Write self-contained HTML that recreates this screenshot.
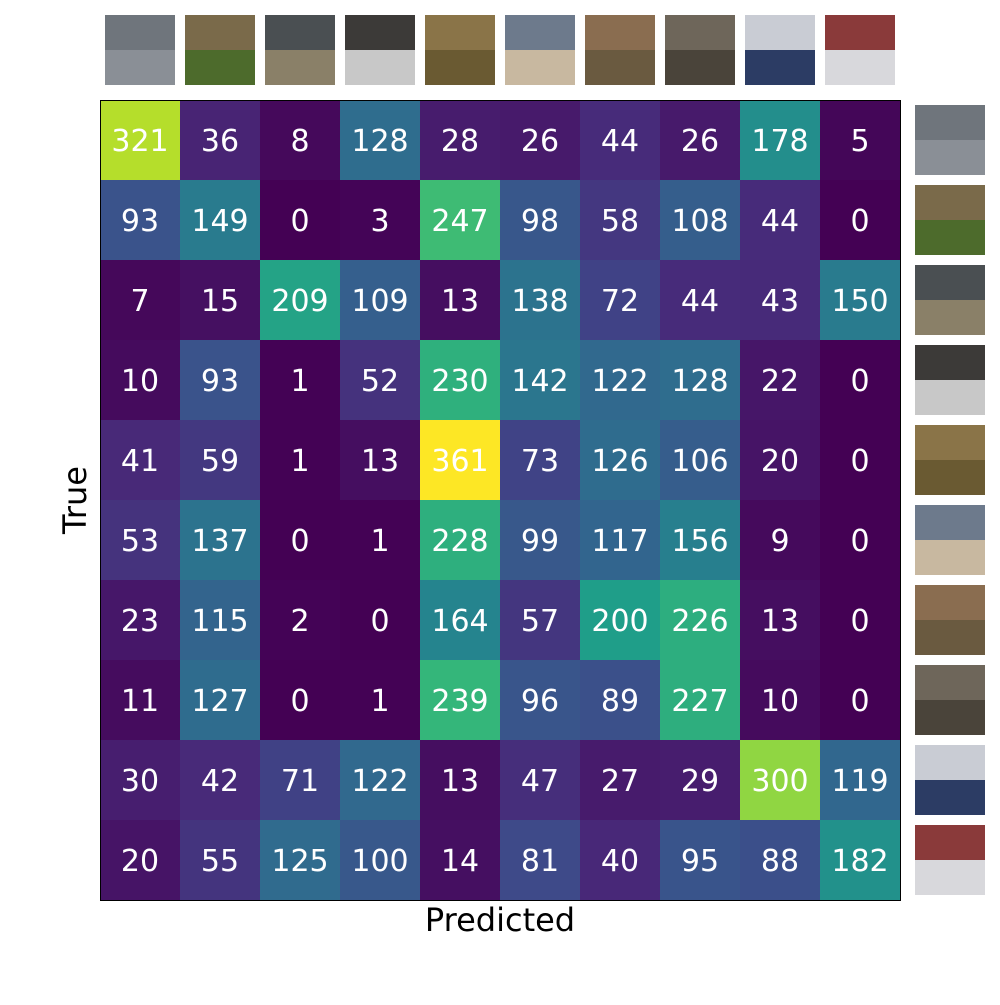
<!DOCTYPE html>
<html><head><meta charset="utf-8"><style>
body{margin:0;background:#fff;width:1000px;height:1000px;overflow:hidden}
svg text{font-family:"DejaVu Sans","Liberation Sans",sans-serif}
</style></head><body>
<svg id="chart" width="1000" height="1000" xmlns="http://www.w3.org/2000/svg">
<g id="cells"></g>
<g id="thumbs"></g>
<rect x="100.5" y="100.5" width="800" height="800" fill="none" stroke="#000" stroke-width="1"/>
<text x="500" y="931" font-size="32" text-anchor="middle">Predicted</text>
<text transform="translate(86,500) rotate(-90)" font-size="32" text-anchor="middle">True</text>
</svg>
<script>
const classes=["airplane","bird","car","cat","deer","dog","horse","monkey","ship","truck"];
const row0=[321,36,8,128,28,26,44,26,178,5];
const row1=[93,149,0,3,247,98,58,108,44,0];
const row2=[7,15,209,109,13,138,72,44,43,150];
const row3=[10,93,1,52,230,142,122,128,22,0];
const row4=[41,59,1,13,361,73,126,106,20,0];
const row5=[53,137,0,1,228,99,117,156,9,0];
const row6=[23,115,2,0,164,57,200,226,13,0];
const row7=[11,127,0,1,239,96,89,227,10,0];
const row8=[30,42,71,122,13,47,27,29,300,119];
const row9=[20,55,125,100,14,81,40,95,88,182];
const matrix=[row0,row1,row2,row3,row4,row5,row6,row7,row8,row9];
const thumbTop=["#6f757c","#7a6a4a","#4a4f52","#3c3a38","#8a7448","#6d7a8c","#8a6d50","#6e665a","#c9ccd4","#8a3a3a"];
const thumbBot=["#8a8f96","#4d6b2c","#8a8068","#c8c8c8","#6a5a32","#c8b8a0","#6a5a40","#4a443a","#2c3c64","#d8d8dc"];
const V=["#440154","#482878","#3e4989","#31688e","#26828e","#1f9e89","#35b779","#6ece58","#b5de2b","#fde725"];
function hex(h){return [1,3,5].map(i=>parseInt(h.substr(i,2),16));}
function viridis(t){t=Math.max(0,Math.min(1,t))*9;const i=Math.min(8,Math.floor(t)),f=t-i;const a=hex(V[i]),b=hex(V[i+1]);return "rgb("+a.map((v,k)=>Math.round(v+(b[k]-v)*f)).join(",")+")";}
const x0=100,y0=100,cs=80,vmax=Math.max(...matrix.flat());
const xPos=c=>x0+c*cs, yPos=r=>y0+r*cs;
const NS="http://www.w3.org/2000/svg";
const g=document.getElementById("cells");
matrix.forEach((row,r)=>row.forEach((v,c)=>{
  const rect=document.createElementNS(NS,"rect");
  
  
  rect.setAttribute("x",xPos(c));rect.setAttribute("y",yPos(r));
  rect.setAttribute("width",cs);rect.setAttribute("height",cs);
  rect.setAttribute("fill",viridis(v/vmax));
  g.appendChild(rect);
  const t=document.createElementNS(NS,"text");
  
  
  t.setAttribute("x",xPos(c)+cs/2);t.setAttribute("y",yPos(r)+cs/2+11);
  t.setAttribute("font-size","30");t.setAttribute("fill","#fff");t.setAttribute("text-anchor","middle");
  t.textContent=v;g.appendChild(t);
}));
const th=document.getElementById("thumbs");
function thumb(x,y,i,name){
  const a=document.createElementNS(NS,"rect");
  
  
  a.setAttribute("x",x);a.setAttribute("y",y);a.setAttribute("width",70);a.setAttribute("height",35);a.setAttribute("fill",thumbTop[i]);th.appendChild(a);
  const b=document.createElementNS(NS,"rect");
  
  
  b.setAttribute("x",x);b.setAttribute("y",y+35);b.setAttribute("width",70);b.setAttribute("height",35);b.setAttribute("fill",thumbBot[i]);th.appendChild(b);
}
classes.forEach((c,i)=>{thumb(xPos(i)+5,15,i,'top-thumb-'+c);thumb(915,yPos(i)+5,i,'side-thumb-'+c);});
</script>
</body></html>
